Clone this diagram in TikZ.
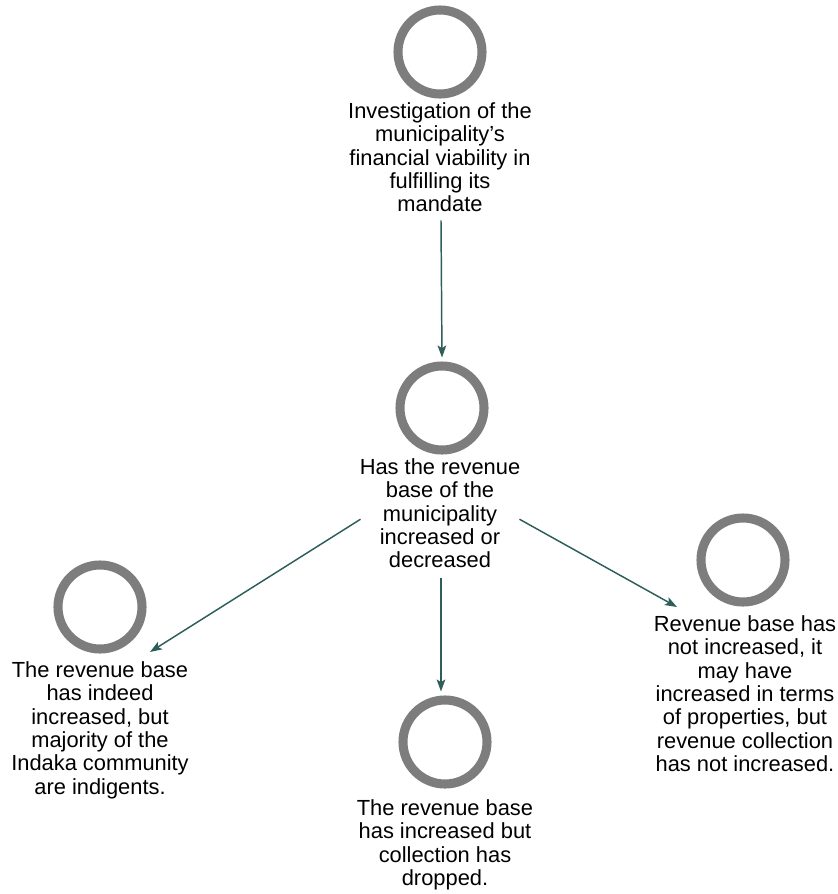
\documentclass[tikz,border=0pt]{standalone}
\usepackage{fontspec}
\setmainfont{Liberation Sans}
\usetikzlibrary{arrows.meta}
\definecolor{ringgray}{HTML}{7D7D7D}
\definecolor{linkteal}{HTML}{2E5E5A}
\begin{document}
\begin{tikzpicture}[x=0.75pt,y=-0.75pt,
  ring/.style={circle,draw=ringgray,line width=6.8pt,minimum size=63pt,inner sep=0pt},
  label/.style={anchor=north,align=center,inner sep=0pt,
    font=\fontsize{16.4pt}{17.6pt}\selectfont},
  link/.style={draw=linkteal,line width=1.1pt,
    -{Stealth[length=9pt,width=6.5pt,inset=2pt]}}]
\useasboundingbox[fill=white] (0,0) rectangle (838,894);

% circles
\node[ring] (c1) at (440,52) {};
\node[ring] (c2) at (442,408) {};
\node[ring] (c3) at (100,607) {};
\node[ring] (c4) at (445,742) {};
\node[ring] (c5) at (743,560) {};

% captions
\node[label] (t1) at (440,102) {Investigation of the\\municipality's\\financial viability in\\fulfilling its\\mandate};
\node[label] (t2) at (440,458) {Has the revenue\\base of the\\municipality\\increased or\\decreased};
\node[label] (t3) at (100,661) {The revenue base\\has indeed\\increased, but\\majority of the\\Indaka community\\are indigents.};
\node[label] (t4) at (445,799) {The revenue base\\has increased but\\collection has\\dropped.};
\node[label] (t5) at (745,615) {Revenue base has\\not increased, it\\may have\\increased in terms\\of properties, but\\revenue collection\\has not increased.};

% arrow tips that stop short of the outer captions
\coordinate (tipL) at (150,652);
\coordinate (tipR) at (677,607);

% connectors
\draw[link] (t1.south) ++(1,8) -- ([yshift=3pt]c2.north);
\draw[link] ([shift={(1,6)}]t2.west) -- (tipL);
\draw[link] ([shift={(-1,6)}]t2.east) -- (tipR);
\draw[link] ([shift={(1,10)}]t2.south) -- ([shift={(1,-4)}]t2.south |- c4.north);
\end{tikzpicture}
\end{document}
